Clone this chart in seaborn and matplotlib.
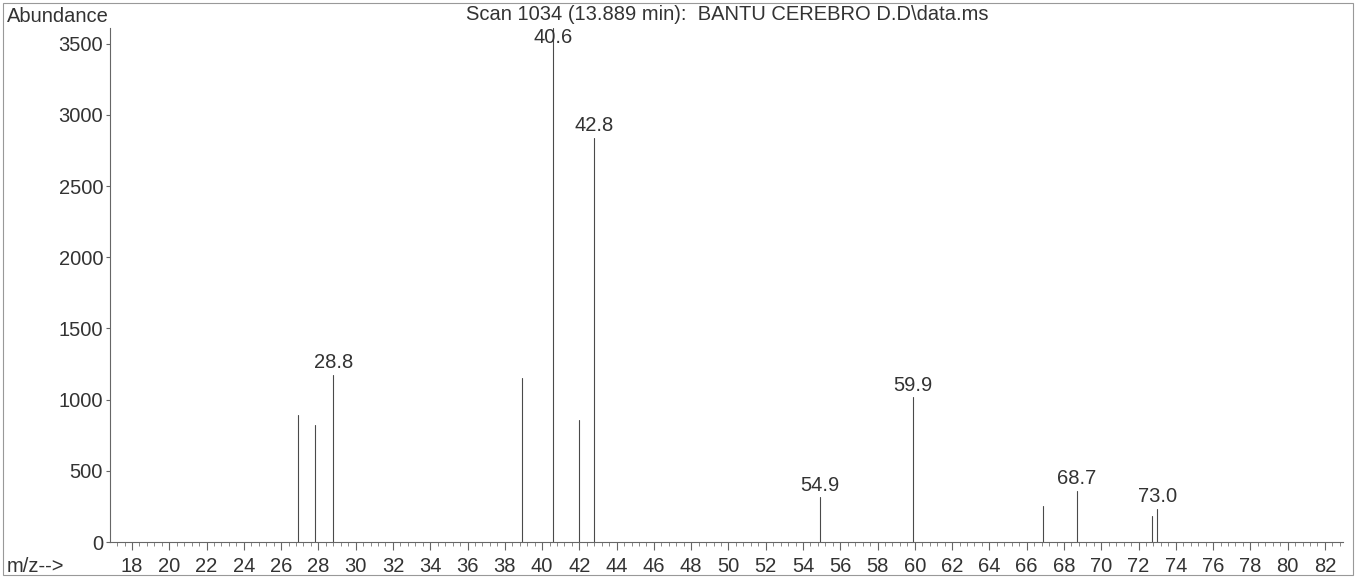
import numpy as np
import pandas as pd
import matplotlib
matplotlib.use("Agg")
import matplotlib.pyplot as plt
from matplotlib.ticker import MultipleLocator
from matplotlib.patches import Rectangle
import seaborn as sns

# ---- data ----
mz = [26.9, 27.8, 28.8, 38.9, 40.6, 42.0, 42.8, 54.9, 59.9, 66.9, 68.7, 72.7, 73.0]
abundance = [890, 825, 1175, 1150, 3610, 860, 2840, 315, 1015, 250, 360, 180, 235]
labeled_mz = [28.8, 40.6, 42.8, 54.9, 59.9, 68.7, 73.0]
y_ticks = [0, 500, 1000, 1500, 2000, 2500, 3000, 3500]
x_ticks = list(range(18, 84, 2))
title = "Scan 1034 (13.889 min):  BANTU CEREBRO D.D\\data.ms"

sns.set_theme(style="white")
plt.rcParams["font.family"] = ["Liberation Sans", "DejaVu Sans"]

ink = "#333333"
stick = "#4a4a4a"
fs = 14.5

# stick spectrum as long-form frame: each peak is a segment from 0 to its height
rows = []
for i, (m, a) in enumerate(zip(mz, abundance)):
    rows.append({"mz": m, "ab": 0.0, "peak": i})
    rows.append({"mz": m, "ab": float(a), "peak": i})
df = pd.DataFrame(rows)

fig = plt.figure(figsize=(13.56, 5.78), dpi=100)
ax = fig.add_axes([110 / 1356, 1 - 542 / 578, (1343 - 110) / 1356, (542 - 28) / 578])

sns.lineplot(data=df, x="mz", y="ab", units="peak", estimator=None,
             color=stick, linewidth=0.8, ax=ax, legend=False, sort=False)

ax.set_xlim(16.82, 82.97)
ax.set_ylim(0, max(abundance))

for s in ["top", "right"]:
    ax.spines[s].set_visible(False)
for s in ["left", "bottom"]:
    ax.spines[s].set_color("#666666")
    ax.spines[s].set_linewidth(0.8)

ax.set_yticks(y_ticks)
ax.set_yticklabels([str(v) for v in y_ticks], fontsize=fs, color=ink)
ax.set_xticks(x_ticks)
ax.set_xticklabels([str(v) for v in x_ticks], fontsize=fs, color=ink)
ax.xaxis.set_minor_locator(MultipleLocator(0.4))
ax.tick_params(axis="x", which="major", direction="out", length=6, width=0.8,
               color="#666666", pad=5, bottom=True)
ax.tick_params(axis="x", which="minor", direction="out", length=3, width=0.6,
               color="#777777", bottom=True)
ax.tick_params(axis="y", which="major", direction="out", length=3, width=0.8,
               color="#666666", pad=2, left=True)
ax.set_xlabel("")
ax.set_ylabel("")
ax.grid(False)

# peak labels
px_per_unit = (542 - 28) / max(abundance)
label_off = 12 / px_per_unit
label_cap = 3540
for m, a in zip(mz, abundance):
    if m in labeled_mz:
        ly = min(a + label_off, label_cap)
        ax.text(m, ly, f"{m:.1f}", ha="center", va="center", fontsize=fs, color=ink)

# figure-level texts
fig.text(7 / 1356, 1 - 16 / 578, "Abundance", ha="left", va="center", fontsize=fs, color=ink)
fig.text(7 / 1356, 1 - 567 / 578, "m/z-->", ha="left", va="center", fontsize=fs, color=ink)
fig.text(727 / 1356, 1 - 14 / 578, title, ha="center", va="center", fontsize=fs, color=ink)

# thin border around the whole plot page
fig.patches.append(Rectangle((3 / 1356, 3 / 578), 1350 / 1356, 572 / 578,
                             transform=fig.transFigure, fill=False,
                             edgecolor="#999999", linewidth=0.8))

fig.savefig("out.png", dpi=100, facecolor="white")
